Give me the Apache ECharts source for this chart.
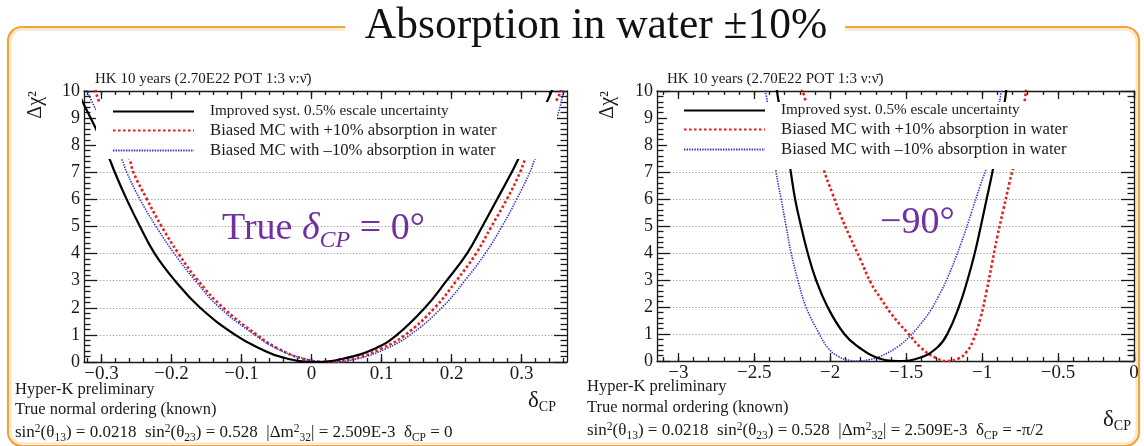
<!DOCTYPE html>
<html>
<head>
<meta charset="utf-8">
<script src="https://cdn.jsdelivr.net/npm/echarts@6/dist/echarts.min.js"></script>
<style>
  html, body { margin: 0; padding: 0; background: #ffffff; }
  #chart { width: 1144px; height: 446px; }
</style>
</head>
<body>
<div id="chart"></div>
<script>
// Δχ² versus δCP for Hyper-K, 10 years, with ±10% absorption-in-water bias.

const SERIES_NAMES = [
  'Improved syst. 0.5% escale uncertainty',
  'Biased MC with +10% absorption in water',
  'Biased MC with \u201310% absorption in water'
];

// Axis ticks
const LEFT_X_TICKS = [-0.3, -0.2, -0.1, 0, 0.1, 0.2, 0.3];
const RIGHT_X_TICKS = [-3, -2.5, -2, -1.5, -1, -0.5, 0];
const Y_TICKS = [0, 1, 2, 3, 4, 5, 6, 7, 8, 9, 10];

// Panel 1: true δCP = 0   [δCP, Δχ²]
const leftNominal = [
  [-0.335, 10.05], [-0.326, 9.55], [-0.309, 8.66], [-0.289, 7.52], [-0.281, 7.0],
  [-0.264, 6.0], [-0.245, 5.0], [-0.224, 4.0], [-0.195, 3.0], [-0.159, 2.0],
  [-0.109, 1.0], [-0.074, 0.5], [-0.040, 0.16], [0.004, 0.0],
  [0.045, 0.12], [0.091, 0.5], [0.122, 1.0], [0.162, 2.0],
  [0.193, 3.0], [0.222, 4.0], [0.244, 5.0], [0.265, 6.0], [0.286, 7.0],
  [0.296, 7.52], [0.317, 8.55], [0.336, 9.58], [0.345, 10.1]
];
const leftPlus = [
  [-0.309, 10.05], [-0.302, 9.52], [-0.281, 8.5], [-0.260, 7.47], [-0.2545, 7.0],
  [-0.235, 6.0], [-0.214, 5.0], [-0.190, 4.0], [-0.162, 3.0], [-0.126, 2.0],
  [-0.078, 1.0], [-0.048, 0.5], [-0.012, 0.12], [0.025, 0.0],
  [0.062, 0.13], [0.100, 0.5], [0.134, 1.0], [0.176, 2.0],
  [0.207, 3.0], [0.235, 4.0], [0.257, 5.0], [0.279, 6.0], [0.298, 7.0],
  [0.306, 7.52], [0.328, 8.6], [0.350, 9.65], [0.357, 10.05]
];
const leftMinus = [
  [-0.321, 10.05], [-0.312, 9.52], [-0.292, 8.5], [-0.271, 7.47], [-0.264, 7.0],
  [-0.245, 6.0], [-0.222, 5.0], [-0.196, 4.0], [-0.166, 3.0], [-0.131, 2.0],
  [-0.081, 1.0], [-0.050, 0.5], [-0.011, 0.13], [0.028, 0.0],
  [0.067, 0.13], [0.107, 0.5], [0.141, 1.0], [0.186, 2.0],
  [0.219, 3.0], [0.248, 4.0], [0.272, 5.0], [0.293, 6.0], [0.312, 7.0],
  [0.319, 7.47], [0.336, 8.3], [0.352, 9.15], [0.360, 10.05]
];

// Panel 2: true δCP = -90°   [δCP, Δχ²]
const rightNominal = [
  [-2.352, 10.1], [-2.345, 9.8], [-2.300, 8.4], [-2.262, 7.1], [-2.231, 6.0],
  [-2.192, 5.0], [-2.148, 4.0], [-2.093, 3.0], [-2.017, 2.0], [-1.907, 1.0],
  [-1.809, 0.5], [-1.700, 0.14], [-1.550, 0.0],
  [-1.410, 0.12], [-1.295, 0.5], [-1.229, 1.0], [-1.153, 2.0],
  [-1.096, 3.0], [-1.048, 4.0], [-1.008, 5.0], [-0.970, 6.0], [-0.932, 7.0],
  [-0.885, 8.4], [-0.846, 9.8], [-0.840, 10.1]
];
const rightPlus = [
  [-2.190, 10.1], [-2.170, 9.8], [-2.110, 8.5], [-2.043, 7.1], [-1.985, 6.2],
  [-1.929, 5.37], [-1.870, 4.6], [-1.800, 3.75], [-1.732, 2.89], [-1.665, 2.3],
  [-1.601, 1.77], [-1.540, 1.35], [-1.491, 1.05], [-1.404, 0.5], [-1.306, 0.12],
  [-1.230, 0.0], [-1.153, 0.1], [-1.100, 0.35], [-1.060, 0.75], [-1.010, 1.6],
  [-0.970, 2.6], [-0.935, 3.6], [-0.900, 4.6], [-0.860, 5.6], [-0.820, 6.6],
  [-0.790, 7.3], [-0.750, 8.6], [-0.715, 9.8], [-0.710, 10.1]
];
const rightMinus = [
  [-2.440, 10.1], [-2.420, 9.8], [-2.390, 8.5], [-2.356, 7.0], [-2.323, 6.0],
  [-2.290, 5.0], [-2.257, 4.0], [-2.213, 3.0], [-2.159, 2.0], [-2.071, 1.0],
  [-2.017, 0.5], [-1.950, 0.18], [-1.870, 0.02], [-1.810, 0.0],
  [-1.750, 0.04], [-1.667, 0.18], [-1.550, 0.55], [-1.470, 0.95], [-1.400, 1.4],
  [-1.339, 1.87], [-1.285, 2.42], [-1.229, 3.06], [-1.142, 4.3], [-1.070, 5.5],
  [-1.015, 6.45], [-0.967, 7.25], [-0.920, 8.5], [-0.879, 9.8], [-0.875, 10.1]
];

const FONT = 'Liberation Serif';
const INK = '#1a1a1a';
const PURPLE = '#7030a0';

const STYLE_NOMINAL = { color: '#000000', width: 2.2, type: 'solid' };
const STYLE_PLUS = { color: '#e3201b', width: 2.6, type: [2.6, 2.4] };
const STYLE_MINUS = { color: '#3434cc', width: 1.6, type: [1.4, 1.2] };

function minorValues(min, max, step) {
  const out = [];
  const start = Math.ceil(min / step - 1e-9);
  const end = Math.floor(max / step + 1e-9);
  for (let i = start; i <= end; i++) out.push(+(i * step).toFixed(6));
  return out;
}

function tickText(v) {
  return (v < 0 ? '\u2212' : '') + String(Math.abs(v));
}

const axisLineStyle = { color: INK, width: 1.3 };

function buildXAxes(grid, min, max, majors, minorStep) {
  const minors = minorValues(min, max, minorStep);
  const base = { type: 'value', gridIndex: grid, min: min, max: max, splitLine: { show: false } };
  return [
    Object.assign({}, base, {
      position: 'bottom',
      axisLine: { show: true, onZero: false, lineStyle: axisLineStyle },
      axisTick: { show: true, inside: true, length: 8, customValues: majors, lineStyle: axisLineStyle },
      axisLabel: { show: true, customValues: majors, formatter: tickText, margin: 3,
                   fontFamily: FONT, fontSize: 19, color: INK }
    }),
    Object.assign({}, base, {
      position: 'bottom',
      axisLine: { show: false, onZero: false },
      axisTick: { show: true, inside: true, length: 4, customValues: minors, lineStyle: axisLineStyle },
      axisLabel: { show: false }
    }),
    Object.assign({}, base, {
      position: 'top',
      axisLine: { show: true, onZero: false, lineStyle: axisLineStyle },
      axisTick: { show: true, inside: true, length: 8, customValues: majors, lineStyle: axisLineStyle },
      axisLabel: { show: false }
    }),
    Object.assign({}, base, {
      position: 'top',
      axisLine: { show: false, onZero: false },
      axisTick: { show: true, inside: true, length: 4, customValues: minors, lineStyle: axisLineStyle },
      axisLabel: { show: false }
    })
  ];
}

function buildYAxes(grid) {
  const base = { type: 'value', gridIndex: grid, min: 0, max: 10, interval: 1 };
  return [
    Object.assign({}, base, {
      position: 'left',
      axisLine: { show: true, onZero: false, lineStyle: axisLineStyle },
      axisTick: { show: true, inside: true, length: 13, lineStyle: axisLineStyle },
      minorTick: { show: true, splitNumber: 5, length: 6.5, lineStyle: axisLineStyle },
      splitLine: { show: true, lineStyle: { color: '#9a9a9a', width: 1, type: [1.2, 2] } },
      axisLabel: { show: true, customValues: Y_TICKS, margin: 4, fontFamily: FONT, fontSize: 18, color: INK }
    }),
    Object.assign({}, base, {
      position: 'right',
      axisLine: { show: true, onZero: false, lineStyle: axisLineStyle },
      axisTick: { show: true, inside: true, length: 13, lineStyle: axisLineStyle },
      minorTick: { show: true, splitNumber: 5, length: 6.5, lineStyle: axisLineStyle },
      splitLine: { show: false },
      axisLabel: { show: false }
    })
  ];
}

function curve(name, data, xi, yi, style, z) {
  return {
    type: 'line', name: name, data: data,
    xAxisIndex: xi, yAxisIndex: yi,
    symbol: 'none', showSymbol: false,
    smooth: 0.45,
    clip: true, silent: true, z: z,
    itemStyle: { color: style.color },
    lineStyle: style
  };
}

function legendFor(left, top, padding, gap) {
  return {
    orient: 'vertical', left: left, top: top, z: 20,
    padding: padding, itemGap: gap, itemWidth: 81, itemHeight: 14,
    backgroundColor: '#ffffff', borderWidth: 0,
    selectedMode: false,
    data: SERIES_NAMES,
    itemStyle: { color: 'rgba(0,0,0,0)', borderColor: 'rgba(0,0,0,0)', borderWidth: 0, opacity: 0 },
    formatter: function (name) {
      return name === SERIES_NAMES[0] ? '{s|' + name + '}' : '{b|' + name + '}';
    },
    textStyle: {
      color: INK, fontFamily: FONT,
      rich: {
        s: { fontFamily: FONT, fontSize: 15.2, lineHeight: 18, color: INK, padding: [0, 0, 0, 11] },
        b: { fontFamily: FONT, fontSize: 16.7, lineHeight: 18, color: INK, padding: [0, 0, 0, 11] }
      }
    }
  };
}

function txt(x, y, text, opts) {
  return {
    type: 'text', x: x, y: y, z: 30, silent: true,
    rotation: (opts && opts.rotation) || 0,
    style: Object.assign({
      text: text, fill: INK, fontFamily: FONT, fontSize: 16.5,
      align: 'left', verticalAlign: 'middle',
      textAlign: 'left', textVerticalAlign: 'middle'
    }, opts && opts.style)
  };
}

// white panels that the legends sit on
function legendPanel(x, y, w, h) {
  return { type: 'rect', z: 15, silent: true,
           shape: { x: x, y: y, width: w, height: h },
           style: { fill: '#ffffff' } };
}

const paramRich = {
  p: { fontFamily: FONT, fontSize: 11.5, lineHeight: 11, verticalAlign: 'top', fill: INK },
  b: { fontFamily: FONT, fontSize: 11.5, lineHeight: 11, verticalAlign: 'bottom', fill: INK }
};
const paramStyle = { fontSize: 17, lineHeight: 21, rich: paramRich };

const axisTitleRich = {
  d: { fontFamily: FONT, fontSize: 23, lineHeight: 26, fill: INK },
  c: { fontFamily: FONT, fontSize: 14, lineHeight: 14, verticalAlign: 'bottom', fill: INK }
};

const chart = echarts.init(document.getElementById('chart'), null, { renderer: 'canvas' });

const option = {
  backgroundColor: '#ffffff',
  animation: false,
  grid: [
    { left: 84, right: 577, top: 91, bottom: 84, outerBoundsMode: 'none' },
    { left: 657, right: 10, top: 91, bottom: 85, outerBoundsMode: 'none' }
  ],
  xAxis: buildXAxes(0, -0.325, 0.365, LEFT_X_TICKS, 0.02)
    .concat(buildXAxes(1, -3.14, 0, RIGHT_X_TICKS, 0.1)),
  yAxis: buildYAxes(0).concat(buildYAxes(1)),
  legend: [
    legendFor(96, 104, [0, 40, 0, 16], 3),
    legendFor(667, 103, [0, 40, 0, 16], 3)
  ],
  series: [
    curve(SERIES_NAMES[1], leftPlus, 0, 0, STYLE_PLUS, 2),
    curve(SERIES_NAMES[2], leftMinus, 0, 0, STYLE_MINUS, 3),
    curve(SERIES_NAMES[0], leftNominal, 0, 0, STYLE_NOMINAL, 4),
    curve(SERIES_NAMES[1], rightPlus, 4, 2, STYLE_PLUS, 2),
    curve(SERIES_NAMES[2], rightMinus, 4, 2, STYLE_MINUS, 3),
    curve(SERIES_NAMES[0], rightNominal, 4, 2, STYLE_NOMINAL, 4)
  ],
  graphic: [
    // slide frame
    { type: 'rect', z: 0, silent: true,
      shape: { x: 8, y: 27, width: 1131, height: 419, r: 14 },
      style: { fill: 'none', stroke: '#f2a23a', lineWidth: 2.2 } },
    { type: 'rect', z: 0, silent: true,
      shape: { x: 10.5, y: 29.5, width: 1126, height: 414, r: 12 },
      style: { fill: 'none', stroke: '#fde6bd', lineWidth: 2 } },
    { type: 'rect', z: 1, silent: true,
      shape: { x: 345, y: 10, width: 500, height: 32 },
      style: { fill: '#ffffff' } },
    txt(596, 27, 'Absorption in water \u00b110%', { style: { fontSize: 43.5, align: 'center', textAlign: 'center', fill: '#111' } }),

    legendPanel(96, 102, 461, 56),
    legendPanel(667, 102, 463, 67),

    // panel headers
    txt(95, 79, 'HK 10 years (2.70E22 POT 1:3 \u03bd:\u03bd\u0304)', { style: { fontSize: 15 } }),
    txt(667, 79, 'HK 10 years (2.70E22 POT 1:3 \u03bd:\u03bd\u0304)', { style: { fontSize: 15 } }),

    // y-axis titles
    txt(36, 91, '\u0394\u03c7\u00b2', { rotation: Math.PI / 2, style: { fontSize: 20, align: 'right', textAlign: 'right' } }),
    txt(608, 91, '\u0394\u03c7\u00b2', { rotation: Math.PI / 2, style: { fontSize: 20, align: 'right', textAlign: 'right' } }),

    // x-axis titles
    txt(528, 401, '{d|\u03b4}{c|CP}', { style: { lineHeight: 26, rich: axisTitleRich } }),
    txt(1103, 420, '{d|\u03b4}{c|CP}', { style: { lineHeight: 26, rich: axisTitleRich } }),

    // in-plot annotations
    txt(222, 229, 'True {i|\u03b4}{sub|CP} = 0\u00b0', { style: {
      fontSize: 38, lineHeight: 48, fill: PURPLE,
      rich: {
        i: { fontFamily: FONT, fontSize: 38, lineHeight: 48, fontStyle: 'italic', fill: PURPLE },
        sub: { fontFamily: FONT, fontSize: 24, lineHeight: 24, fontStyle: 'italic', verticalAlign: 'bottom', fill: PURPLE }
      } } }),
    txt(880, 223, '\u221290\u00b0', { style: { fontSize: 38, fill: PURPLE } }),

    // oscillation parameters, left panel
    txt(15, 390, 'Hyper-K preliminary'),
    txt(15, 410, 'True normal ordering (known)'),
    txt(15, 433, 'sin{p|2}(\u03b8{b|13}) = 0.0218  sin{p|2}(\u03b8{b|23}) = 0.528  |\u0394m{p|2}{b|32}| = 2.509E-3  \u03b4{b|CP} = 0', { style: paramStyle }),

    // oscillation parameters, right panel
    txt(587, 387, 'Hyper-K preliminary'),
    txt(587, 408, 'True normal ordering (known)'),
    txt(587, 431, 'sin{p|2}(\u03b8{b|13}) = 0.0218  sin{p|2}(\u03b8{b|23}) = 0.528  |\u0394m{p|2}{b|32}| = 2.509E-3  \u03b4{b|CP} = -\u03c0/2', { style: paramStyle })
  ]
};

chart.setOption(option);
</script>
</body>
</html>
